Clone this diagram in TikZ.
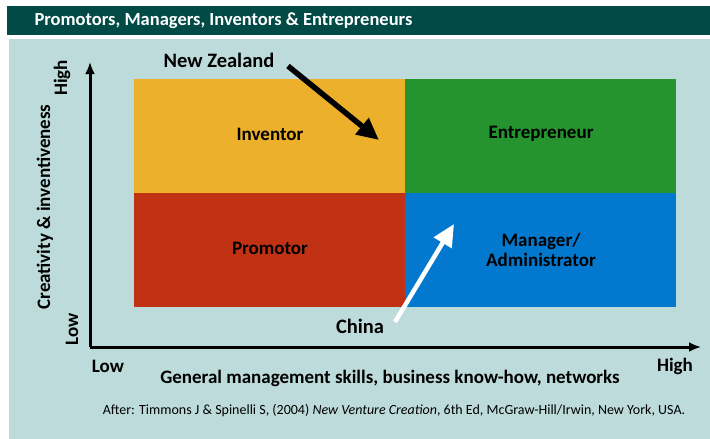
\documentclass[tikz,border=0pt]{standalone}
\usepackage{fontspec}
\setmainfont{Carlito}
\usetikzlibrary{arrows.meta}

\definecolor{titlebar}{HTML}{024A46}
\definecolor{panel}{HTML}{BDDBDB}
\definecolor{inventorc}{HTML}{EDB02A}
\definecolor{entrepc}{HTML}{26942E}
\definecolor{promotorc}{HTML}{C13215}
\definecolor{managerc}{HTML}{0279CE}

\tikzset{
  quadlabel/.style={font=\bfseries\fontsize{19}{20}\selectfont, align=center},
  axislabel/.style={font=\bfseries\fontsize{19}{20}\selectfont},
  countrylabel/.style={font=\bfseries\fontsize{20.5}{22}\selectfont},
  axisline/.style={line width=3pt, -{Latex[length=12pt,width=10pt]}},
  bigarrow/.style={line width=5.5pt, -{Triangle[length=22pt,width=20pt]}},
}

\begin{document}
\begin{tikzpicture}[x=1pt,y=-1pt]
\useasboundingbox (0,0) rectangle (710,439);
\fill[white] (0,0) rectangle (710,439);

\fill[titlebar] (7,6) rectangle (710,35);
\node[anchor=west, text=white, font=\bfseries\fontsize{18.5}{20}\selectfont] (title) at (31,21) {Promotors, Managers, Inventors \& Entrepreneurs};

\fill[panel] (9,39) rectangle (710,439);

% quadrants
\fill[inventorc] (134,79) rectangle (405,193);
\fill[entrepc] (405,79) rectangle (676,193);
\fill[promotorc] (134,193) rectangle (405,307);
\fill[managerc] (405,193) rectangle (676,307);

\node[quadlabel] (inventor) at (270,134) {Inventor};
\node[quadlabel] (entrep) at (541,134) {Entrepreneur};
\node[quadlabel] (promotor) at (270,248) {Promotor};
\node[quadlabel] (manager) at (541,250) {Manager/\\Administrator};

% axes
\coordinate (origin) at (90,347);
\coordinate (ytop) at (90,62);
\coordinate (xend) at (701,347);
\draw[axisline] (origin) -- (ytop);
\draw[axisline] (origin) -- (xend);

\node[axislabel, rotate=90] (yhigh) at (62,78) {High};
\node[axislabel, rotate=90] (ylow) at (72,329) {Low};
\node[axislabel, rotate=90] (ytext) at (45,207) {Creativity \& inventiveness};

\node[axislabel] (xlow) at (108,366) {Low};
\node[axislabel] (xhigh) at (675,366) {High};
\node[axislabel] (xtext) at (390,378) {General management skills, business know-how, networks};

\node[font=\fontsize{14}{16}\selectfont] (source) at (394,411) {After: Timmons J \& Spinelli S, (2004) \textit{New Venture Creation}, 6th Ed, McGraw-Hill/Irwin, New York, USA.};

% countries
\node[countrylabel] (nz) at (219,60) {New Zealand};
\coordinate (nztail) at (288,66);
\coordinate (nztip) at (379,140);
\draw[bigarrow] (nztail) -- (nztip);

\node[countrylabel] (china) at (360,326) {China};
\coordinate (chinatail) at (395,322);
\coordinate (chinatip) at (454,224);
\draw[bigarrow, white, line width=4.5pt] (chinatail) -- (chinatip);

\end{tikzpicture}
\end{document}
